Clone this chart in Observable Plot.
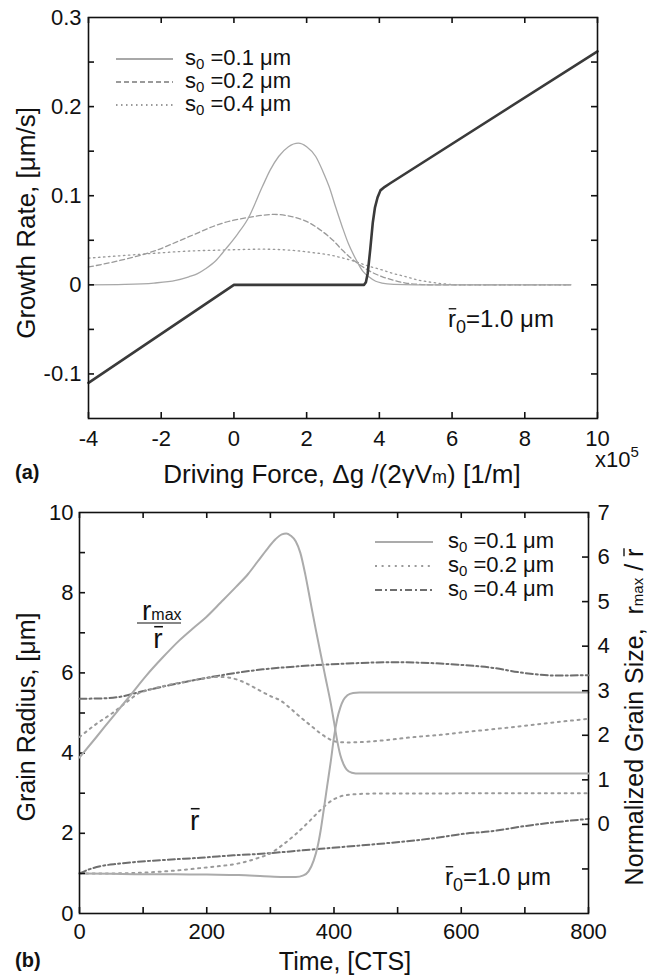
<!DOCTYPE html>
<html><head><meta charset="utf-8">
<script src="https://cdn.jsdelivr.net/npm/d3@7"></script>
<script src="https://cdn.jsdelivr.net/npm/@observablehq/plot@0.6"></script>
<style>
body{margin:0;background:#fff}
#wrap{position:relative;width:657px;height:977px;font-family:Arial,"Liberation Sans",Helvetica,sans-serif;overflow:hidden}
.layer{position:absolute;left:0}
#ov{position:absolute;left:0;top:0;pointer-events:none}
#ov text{font-family:Arial,"Liberation Sans",Helvetica,sans-serif;fill:#111;white-space:pre}
</style></head><body>
<div id="wrap">
  <div id="pa" class="layer" style="top:0"></div>
  <div id="pb1" class="layer" style="top:480px"></div>
  <div id="pb2" class="layer" style="top:480px"></div>
</div>
<script>
// ---------- Panel (a): growth rate vs driving force ----------
const aXTickLabels = [-4, -2, 0, 2, 4, 6, 8, 10];
const aYTickLabels = [-0.1, 0, 0.1, 0.2, 0.3];
const aYTicks = [-0.1, -0.05, 0, 0.05, 0.1, 0.15, 0.2, 0.25];
const growth_s01 = [[-4,0],[-3,0.0005],[-2.2,0.002],[-1.6,0.005],[-1.24,0.009],[-1.0,0.0125],[-0.78,0.018],[-0.5,0.027],[-0.23,0.040],[0.1,0.057],[0.39,0.0745],[0.78,0.110],[1.0,0.129],[1.23,0.144],[1.5,0.155],[1.77,0.159],[2.0,0.155],[2.25,0.144],[2.45,0.127],[2.62,0.110],[2.8,0.087],[2.98,0.065],[3.15,0.046],[3.35,0.029],[3.55,0.015],[3.71,0.009],[3.9,0.004],[4.07,0.002],[4.4,0.0005],[5,0],[9.27,0]];
const growth_s02 = [[-4,0.020],[-3.07,0.028],[-2.16,0.0384],[-1.24,0.054],[-0.33,0.069],[0.41,0.0757],[1.11,0.079],[1.70,0.0754],[2.1,0.069],[2.43,0.060],[2.75,0.049],[2.98,0.039],[3.25,0.029],[3.53,0.0205],[3.8,0.014],[4.07,0.0093],[4.4,0.005],[4.72,0.002],[5.1,0.0005],[5.5,0],[9.27,0]];
const growth_s04 = [[-4,0.030],[-3,0.033],[-2.16,0.0355],[-1.2,0.038],[-0.33,0.039],[0.78,0.040],[1.70,0.0384],[2.2,0.036],[2.62,0.0336],[3.0,0.030],[3.35,0.026],[3.7,0.021],[4.07,0.0168],[4.4,0.0125],[4.72,0.0093],[5.0,0.006],[5.4,0.003],[5.8,0.001],[6.2,0],[9.27,0]];
const growth_r0 = [[-4,-0.11],[0,0],[3.58,0],[3.63,0.003],[3.68,0.013],[3.75,0.04],[3.82,0.07],[3.88,0.087],[3.95,0.098],[4.03,0.106],[4.15,0.110],[4.3,0.114],[10,0.262]];

// ---------- Panel (b): grain radius vs time ----------
const bXTicks = [0,100,200,300,400,500,600,700,800];
const bXTickLabels = [0,200,400,600,800];
const bYTicks = [1,2,3,4,5,6,7,8,9];
const bYTickLabels = [0,2,4,6,8,10];
const bY2Ticks = [-1,0,1,2,3,4,5,6];
const bY2TickLabels = [0,1,2,3,4,5,6,7];
// normalized grain size r_max / r-bar (right axis)
const ratio_s01 = [[0,1.50],[26,1.95],[52,2.41],[79,2.88],[105,3.34],[131,3.75],[157,4.13],[180,4.42],[199,4.65],[222,4.98],[246,5.33],[265,5.62],[280,5.9],[295,6.18],[308,6.4],[318,6.51],[325,6.53],[332,6.48],[340,6.35],[347,6.1],[355,5.6],[363,5.0],[371,4.4],[379,3.83],[387,3.27],[395,2.71],[400,2.3],[405,1.88],[410,1.55],[415,1.35],[420,1.23],[428,1.16],[440,1.14],[800,1.14]];
const ratio_s02 = [[0,1.96],[26,2.25],[52,2.5],[79,2.8],[94,2.95],[105,3.0],[131,3.1],[157,3.18],[190,3.26],[220,3.31],[240,3.28],[260,3.18],[280,3.03],[300,2.88],[316,2.78],[330,2.62],[347,2.41],[365,2.2],[379,2.04],[392,1.92],[402,1.86],[420,1.84],[447,1.85],[480,1.89],[526,1.96],[567,2.01],[598,2.06],[672,2.17],[740,2.28],[800,2.37]];
const ratio_s04 = [[0,2.82],[40,2.83],[70,2.88],[94,2.97],[157,3.17],[220,3.34],[288,3.48],[346,3.55],[421,3.61],[489,3.64],[567,3.61],[600,3.58],[646,3.52],[698,3.40],[751,3.34],[800,3.35]];
// mean grain radius r-bar (left axis)
const rbar_s01 = [[0,1.0],[50,0.99],[100,0.98],[150,0.98],[200,0.97],[250,0.96],[290,0.93],[320,0.91],[340,0.91],[352,0.95],[360,1.05],[368,1.32],[374,1.65],[379,2.07],[384,2.6],[389,3.15],[395,3.8],[400,4.40],[405,4.85],[410,5.14],[415,5.33],[421,5.44],[430,5.5],[440,5.51],[800,5.51]];
const rbar_s02 = [[0,1.0],[50,1.0],[100,1.02],[150,1.07],[200,1.15],[250,1.25],[280,1.38],[300,1.5],[320,1.72],[340,1.98],[360,2.28],[380,2.6],[395,2.8],[410,2.92],[430,2.97],[460,2.99],[800,3.0]];
const rbar_s04 = [[0,1.0],[15,1.1],[33,1.18],[60,1.24],[85,1.28],[137,1.34],[190,1.39],[242,1.45],[295,1.50],[347,1.57],[421,1.67],[480,1.75],[526,1.82],[567,1.90],[600,1.98],[646,2.05],[700,2.18],[750,2.28],[800,2.36]];

const FONT = 'Arial, "Liberation Sans", Helvetica, sans-serif';
const INK = "#111";
const fmt = d => String(d);
const px = d => d[0], py = d => d[1];

// ----- Panel (a) -----
const aW = 657, aH = 480, aM = {top:17, right:60, bottom:62, left:88};
const aPH = aH - aM.top - aM.bottom, aPW = aW - aM.left - aM.right;
const plotA = Plot.plot({
  width: aW, height: aH,
  marginTop: aM.top, marginRight: aM.right, marginBottom: aM.bottom, marginLeft: aM.left,
  style: {fontFamily: FONT, background: "transparent", overflow: "visible"},
  x: {domain: [-4, 10]},
  y: {domain: [-0.15, 0.3]},
  marks: [
    Plot.line(growth_s04, {x: px, y: py, stroke: "#9a9a9a", strokeWidth: 1.3, strokeDasharray: "1.5,3.5", curve: "monotone-x"}),
    Plot.line(growth_s02, {x: px, y: py, stroke: "#9a9a9a", strokeWidth: 1.3, strokeDasharray: "5,3", curve: "monotone-x"}),
    Plot.line(growth_s01, {x: px, y: py, stroke: "#a8a8a8", strokeWidth: 1.3, curve: "monotone-x"}),
    Plot.line(growth_r0, {x: px, y: py, stroke: "#3a3a3a", strokeWidth: 2.6, curve: "linear"}),
    Plot.frame({stroke: INK, strokeWidth: 1.6}),
    Plot.ruleX(aXTickLabels, {x: d => d, insetTop: aPH - 6, stroke: INK, strokeWidth: 1.6}),
    Plot.ruleX(aXTickLabels, {x: d => d, insetBottom: aPH - 6, stroke: INK, strokeWidth: 1.6}),
    Plot.ruleY(aYTicks, {y: d => d, insetRight: aPW - 6, stroke: INK, strokeWidth: 1.6}),
    Plot.ruleY(aYTicks, {y: d => d, insetLeft: aPW - 6, stroke: INK, strokeWidth: 1.6}),
    Plot.axisX({ticks: aXTickLabels, tickSize: 0, tickPadding: 12, fontSize: 22, label: null, tickFormat: fmt, fill: INK}),
    Plot.axisY({ticks: aYTickLabels, tickSize: 0, tickPadding: 7, fontSize: 22, label: null, tickFormat: fmt, fill: INK})
  ]
});
document.getElementById("pa").appendChild(plotA);

// ----- Panel (b) -----
const bW = 657, bH = 497, bM = {top:32, right:69, bottom:64, left:79};
const bPH = bH - bM.top - bM.bottom, bPW = bW - bM.left - bM.right;
const sDot = {stroke: "#9a9a9a", strokeWidth: 2, strokeDasharray: "2,4.6", curve: "monotone-x"};
const sSolid = {stroke: "#ababab", strokeWidth: 2, curve: "monotone-x"};
const sDash = {stroke: "#6e6e6e", strokeWidth: 2, strokeDasharray: "7,3,2,3", curve: "monotone-x"};
const common = {
  width: bW, height: bH,
  marginTop: bM.top, marginRight: bM.right, marginBottom: bM.bottom, marginLeft: bM.left,
  style: {fontFamily: FONT, background: "transparent", overflow: "visible"}
};
const plotB1 = Plot.plot({
  ...common,
  x: {domain: [0, 800]},
  y: {domain: [0, 10]},
  marks: [
    Plot.line(rbar_s04, {x: px, y: py, ...sDash}),
    Plot.line(rbar_s02, {x: px, y: py, ...sDot}),
    Plot.line(rbar_s01, {x: px, y: py, ...sSolid}),
    Plot.frame({stroke: INK, strokeWidth: 1.6}),
    Plot.ruleX(bXTicks, {x: d => d, insetTop: bPH - 6, stroke: INK, strokeWidth: 1.6}),
    Plot.ruleX(bXTicks, {x: d => d, insetBottom: bPH - 6, stroke: INK, strokeWidth: 1.6}),
    Plot.ruleY(bYTicks, {y: d => d, insetRight: bPW - 6, stroke: INK, strokeWidth: 1.6}),
    Plot.axisX({ticks: bXTickLabels, tickSize: 0, tickPadding: 10, fontSize: 22, label: null, tickFormat: fmt, fill: INK}),
    Plot.axisY({ticks: bYTickLabels, tickSize: 0, tickPadding: 6, fontSize: 22, label: null, tickFormat: fmt, fill: INK})
  ]
});
document.getElementById("pb1").appendChild(plotB1);

const plotB2 = Plot.plot({
  ...common,
  x: {domain: [0, 800], axis: null},
  y: {domain: [-2, 7]},
  marks: [
    Plot.line(ratio_s04, {x: px, y: py, ...sDash}),
    Plot.line(ratio_s02, {x: px, y: py, ...sDot}),
    Plot.line(ratio_s01, {x: px, y: py, ...sSolid}),
    Plot.ruleY(bY2Ticks, {y: d => d, insetLeft: bPW - 6, stroke: INK, strokeWidth: 1.6}),
    Plot.axisY({anchor: "right", ticks: bY2TickLabels, tickSize: 0, tickPadding: 9, fontSize: 22, label: null, tickFormat: fmt, fill: INK})
  ]
});
document.getElementById("pb2").appendChild(plotB2);

// ---------- Overlay: titles, legends, annotations ----------
const ov = d3.select("#wrap").append("svg").attr("id", "ov").attr("width", 657).attr("height", 977);

// rich text: parts = [text, {size, dy, overline}]; baseline at local y = 0
function rich(opts, parts) {
  const {x = 0, y = 0, transform, size, anchor = "start", weight} = opts;
  const g = ov.append("g").attr("transform", transform || `translate(${x},${y})`);
  const t = g.append("text").attr("font-size", size).attr("text-anchor", anchor);
  if (weight) t.attr("font-weight", weight);
  let dyAcc = 0;
  const overs = [];
  parts.forEach(([s, o = {}]) => {
    const ts = t.append("tspan").text(s);
    if (o.size) ts.attr("font-size", o.size);
    if (o.dy) { ts.attr("dy", o.dy); dyAcc += o.dy; }
    if (o.overline) overs.push({node: ts.node(), fs: o.size || size, base: dyAcc});
  });
  overs.forEach(({node, fs, base}) => {
    try {
      const e = node.getExtentOfChar(0);
      const yb = base - fs * 0.76;
      g.append("line").attr("x1", e.x + fs * 0.03).attr("x2", e.x + e.width + fs * 0.01)
        .attr("y1", yb).attr("y2", yb).attr("stroke", INK).attr("stroke-width", Math.max(1.2, fs * 0.055));
    } catch (err) { /* skip bar if measurement fails */ }
  });
  return g;
}

// panel labels
rich({x: 15, y: 479, size: 20, weight: "bold"}, [["(a)"]]);
rich({x: 15, y: 967, size: 20, weight: "bold"}, [["(b)"]]);

// x titles
rich({x: 342, y: 483, size: 26, anchor: "middle"}, [["Driving Force, Δg /(2γV"], ["m", {size: 18}], [") [1/m]"]]);
rich({x: 345, y: 970, size: 25, anchor: "middle"}, [["Time, [CTS]"]]);
// exponent
rich({x: 595, y: 467, size: 22}, [["x10"], ["5", {size: 15, dy: -10}]]);

// y titles
rich({transform: "translate(35,223) rotate(-90)", size: 26, anchor: "middle"}, [["Growth Rate, [μm/s]"]]);
rich({transform: "translate(35,717) rotate(-90)", size: 25, anchor: "middle"}, [["Grain Radius, [μm]"]]);
rich({transform: "translate(643,717) rotate(-90)", size: 25, anchor: "middle"},
  [["Normalized Grain Size,  r"], ["max", {size: 15}], [" / "], ["r", {overline: true}]]);

// legends
function legend(items, x0, x1, tx, ys) {
  items.forEach((it, i) => {
    ov.append("line").attr("x1", x0).attr("x2", x1).attr("y1", ys[i]).attr("y2", ys[i])
      .attr("stroke", it.stroke).attr("stroke-width", it.w).attr("stroke-dasharray", it.dash || null);
    rich({x: tx, y: ys[i] + 6, size: 22}, [["s"], ["0", {size: 15, dy: 4}], [" =" + it.label + " μm", {dy: -4}]]);
  });
}
legend([
  {stroke: "#a8a8a8", w: 2, label: "0.1"},
  {stroke: "#9a9a9a", w: 2, dash: "5,3", label: "0.2"},
  {stroke: "#9a9a9a", w: 2, dash: "1.5,3.5", label: "0.4"}
], 116, 173, 185, [59, 82, 105]);
legend([
  {stroke: "#ababab", w: 2, label: "0.1"},
  {stroke: "#9a9a9a", w: 2, dash: "2,4.6", label: "0.2"},
  {stroke: "#6e6e6e", w: 2, dash: "7,3,2,3", label: "0.4"}
], 375, 433, 448, [542, 566, 590]);

// annotations
function r0(x, y) {
  rich({x, y, size: 24}, [["r", {overline: true}], ["0", {size: 18, dy: 6}], ["=1.0 μm", {dy: -6}]]);
}
r0(448, 327);
r0(445, 885);
// fraction r_max / r-bar
rich({x: 142, y: 620, size: 28}, [["r"], ["max", {size: 16}]]);
ov.append("line").attr("x1", 137).attr("x2", 181).attr("y1", 623).attr("y2", 623).attr("stroke", INK).attr("stroke-width", 1.2);
rich({x: 158, y: 648, size: 28, anchor: "middle"}, [["r", {overline: true}]]);
rich({x: 190, y: 830, size: 28}, [["r", {overline: true}]]);
</script>
</body></html>
